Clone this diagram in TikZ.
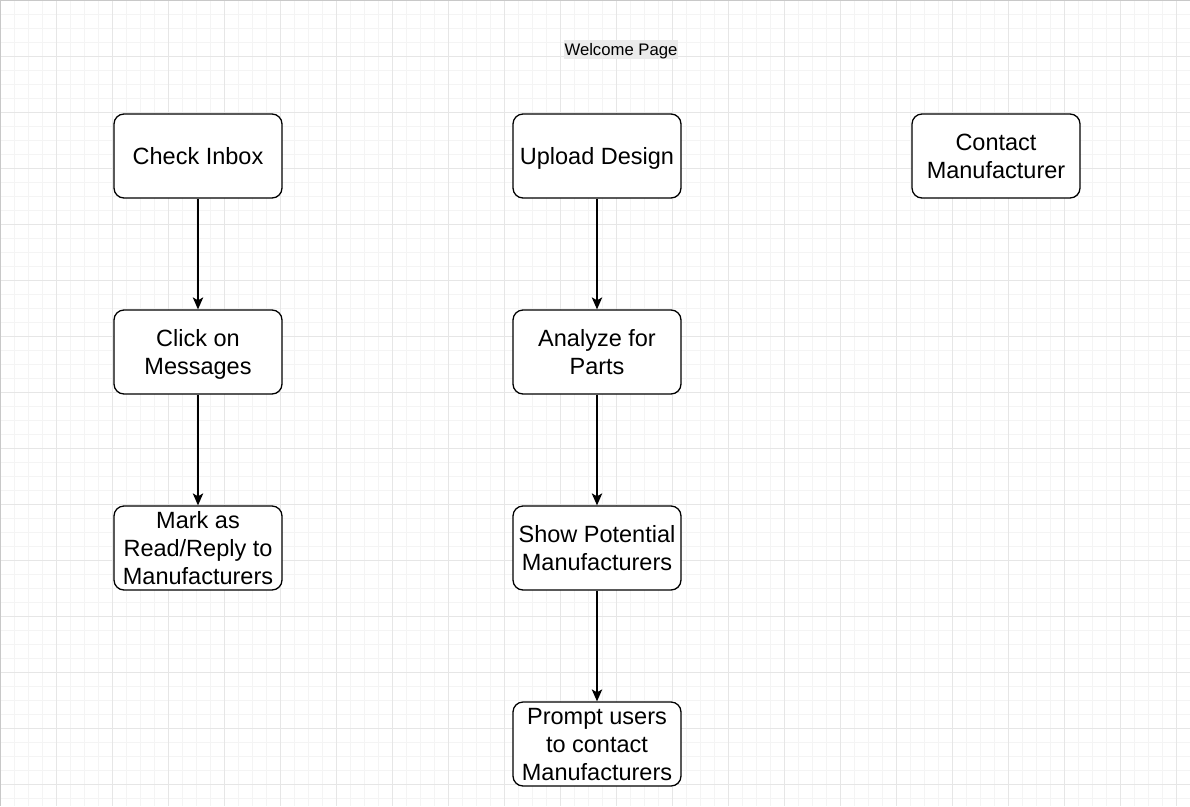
\documentclass[tikz,border=0pt]{standalone}
\usepackage{fontspec}
\setmainfont{Liberation Sans}
\usetikzlibrary{arrows.meta}
\definecolor{gridminor}{HTML}{F4F4F4}
\definecolor{gridmajor}{HTML}{E6E6E6}
\definecolor{frameg}{HTML}{C8C8C8}
\definecolor{labelbg}{HTML}{EBEBEB}
\newcommand{\mytopstrut}{\rule{0pt}{22.3pt}}
\newcommand{\mybotstrut}{\rule[-5.7pt]{0pt}{5.7pt}}
\tikzset{
  stepbox/.style={draw=black, line width=1.3pt, rounded corners=10pt, fill=white,
    minimum width=168pt, minimum height=84pt, inner sep=0pt, align=center,
    font=\fontsize{23.5}{28}\selectfont},
  arr/.style={line width=1.3pt, -{Stealth[length=12pt,width=10.5pt,inset=3pt]}},
  titlelbl/.style={fill=labelbg, inner xsep=0.5pt, inner ysep=0pt, text height=15.7pt, text depth=3.3pt,
    font=\fontsize{16.7}{19}\selectfont}
}
\begin{document}
\begin{tikzpicture}[x=1pt,y=-1pt]
\useasboundingbox (0,0) rectangle (1190,806);
\fill[white] (0,0) rectangle (1190,806);
% minor grid
\foreach \i in {0,14,...,1190} \draw[gridminor, line width=1pt] (\i,0) -- (\i,806);
\foreach \j in {0,14,...,806} \draw[gridminor, line width=1pt] (0,\j) -- (1190,\j);
% major grid
\foreach \i in {0,56,...,1190} \draw[gridmajor, line width=1pt] (\i,0) -- (\i,806);
\foreach \j in {0,56,...,806} \draw[gridmajor, line width=1pt] (0,\j) -- (1190,\j);
% frame (top and left)
\draw[frameg, line width=2.5pt] (0,806) -- (0,0) -- (1190,0);

\node[titlelbl] (welcome) at (621,49.5) {Welcome Page};

\node[stepbox] (inbox) at (198,156) {\mytopstrut Check Inbox\mybotstrut};
\node[stepbox] (click) at (198,352) {\mytopstrut Click on\\Messages\mybotstrut};
\node[stepbox] (mark) at (198,548) {\mytopstrut Mark as\\Read/Reply to\\Manufacturers\mybotstrut};

\node[stepbox] (upload) at (597,156) {\mytopstrut Upload Design\mybotstrut};
\node[stepbox] (analyze) at (597,352) {\mytopstrut Analyze for\\Parts\mybotstrut};
\node[stepbox] (show) at (597,548) {\mytopstrut Show Potential\\Manufacturers\mybotstrut};
\node[stepbox] (prompt) at (597,744) {\mytopstrut Prompt users\\to contact\\Manufacturers\mybotstrut};

\node[stepbox] (contact) at (996,156) {\mytopstrut Contact\\Manufacturer\mybotstrut};

\draw[arr] (inbox) -- (click);
\draw[arr] (click) -- (mark);
\draw[arr] (upload) -- (analyze);
\draw[arr] (analyze) -- (show);
\draw[arr] (show) -- (prompt);
\end{tikzpicture}
\end{document}
